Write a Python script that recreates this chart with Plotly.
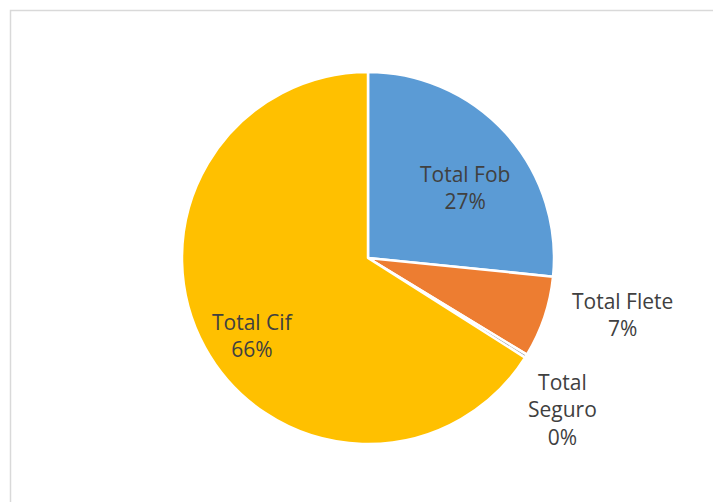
import plotly.graph_objects as go
import math

labels = ["Total Fob", "Total Flete", "Total Seguro", "Total Cif"]
values = [26.6, 7.1, 0.3, 66.0]
colors = ["#5B9BD5", "#ED7D31", "#A5A5A5", "#FFC000"]
# label display text (line breaks as in the reference)
label_text = ["Total Fob", "Total Flete", "Total<br>Seguro", "Total Cif"]
# label placement: (radius factor, angle offset in degrees)
label_pos = [(0.646, 5.9), (1.40, -5.9), (1.326, 5.9), (0.747, -5.35)]

W, H = 713, 502
cx, cy, R = 368, 258, 186

fig = go.Figure(go.Pie(
    labels=labels, values=values, sort=False, direction="clockwise",
    rotation=0, marker=dict(colors=colors, line=dict(color="white", width=2.5)),
    textinfo="none", hoverinfo="label+percent", showlegend=False,
    domain=dict(x=[(cx - R) / W, (cx + R) / W], y=[1 - (cy + R) / H, 1 - (cy - R) / H]),
))

total = sum(values)
cum = 0.0
annotations = []
for lab, v, (rf, off) in zip(label_text, values, label_pos):
    mid = (cum + v / 2) / total * 360 + off
    cum += v
    px = cx + rf * R * math.sin(math.radians(mid))
    py = cy - rf * R * math.cos(math.radians(mid))
    pct = round(v / total * 100)
    annotations.append(dict(
        x=px / W, y=1 - py / H, xref="paper", yref="paper",
        xanchor="center", yanchor="middle",
        text=f"{lab}<br>{pct}%", showarrow=False, align="center",
        font=dict(family="Open Sans, Liberation Sans, sans-serif", size=21, color="#404040"),
    ))

fig.update_layout(
    width=W, height=H, margin=dict(l=0, r=0, t=0, b=0),
    paper_bgcolor="white", plot_bgcolor="white",
    annotations=annotations,
    shapes=[dict(type="rect", xref="paper", yref="paper",
                 x0=10.5 / W, x1=1.1, y0=-0.1, y1=1 - 10.5 / H,
                 line=dict(color="#D9D9D9", width=1.5), fillcolor="rgba(0,0,0,0)")],
)
fig.write_html("out.html", config={"displayModeBar": False},
               post_script="document.body.style.margin='0';")
